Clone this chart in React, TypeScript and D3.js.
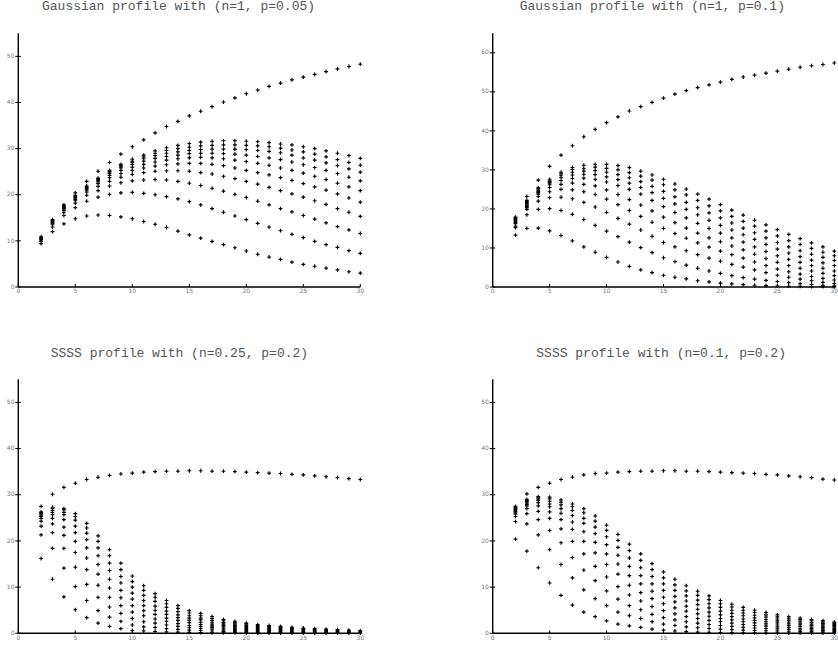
import React from "react";
import * as d3 from "d3";

// antenna count on the x axis, shared by all four panels
const nValues = [2, 3, 4, 5, 6, 7, 8, 9, 10, 11, 12, 13, 14, 15, 16, 17, 18, 19, 20, 21, 22, 23, 24, 25, 26, 27, 28, 29, 30];

// Gaussian profile (n=1, p=0.05)
const gaussLowTop = [10.9, 14.6, 17.8, 20.4, 22.9, 25.1, 27.0, 28.8, 30.4, 31.9, 33.4, 34.8, 35.9, 37.1, 38.1, 39.1, 40.1, 41.0, 41.9, 42.7, 43.5, 44.2, 44.9, 45.5, 46.1, 46.7, 47.3, 47.8, 48.3];
const gaussLowSeries = [
  [9.4, 12.0, 13.7, 14.8, 15.4, 15.6, 15.5, 15.2, 14.8, 14.2, 13.6, 12.9, 12.1, 11.3, 10.6, 9.9, 9.2, 8.5, 7.8, 7.1, 6.5, 6.0, 5.4, 4.9, 4.5, 4.1, 3.7, 3.3, 3.0],
  [9.9, 13.0, 15.5, 17.2, 18.6, 19.5, 20.1, 20.4, 20.5, 20.3, 20.0, 19.6, 19.1, 18.5, 17.8, 17.0, 16.2, 15.4, 14.6, 13.8, 13.0, 12.2, 11.4, 10.7, 9.9, 9.2, 8.6, 7.9, 7.3],
  [10.2, 13.5, 16.2, 18.2, 19.9, 20.9, 21.9, 22.6, 23.0, 23.2, 23.3, 23.2, 22.9, 22.5, 22.0, 21.4, 20.8, 20.1, 19.4, 18.6, 17.8, 17.0, 16.3, 15.5, 14.7, 13.9, 13.1, 12.4, 11.6],
  [10.4, 13.8, 16.6, 18.7, 20.6, 21.8, 22.9, 23.8, 24.4, 24.8, 25.1, 25.2, 25.2, 25.1, 24.8, 24.5, 24.0, 23.5, 22.9, 22.3, 21.6, 20.9, 20.2, 19.5, 18.7, 17.9, 17.0, 16.2, 15.3],
  [10.5, 14.0, 16.9, 19.0, 21.0, 22.4, 23.7, 24.6, 25.3, 25.8, 26.2, 26.5, 26.7, 26.8, 26.8, 26.6, 26.3, 25.8, 25.3, 24.8, 24.3, 23.7, 23.1, 22.4, 21.7, 21.0, 20.2, 19.3, 18.4],
  [10.6, 14.1, 17.1, 19.3, 21.3, 22.8, 24.2, 25.3, 26.0, 26.6, 27.1, 27.5, 27.8, 28.0, 28.1, 28.0, 27.8, 27.5, 27.2, 26.8, 26.4, 25.8, 25.3, 24.7, 24.0, 23.3, 22.5, 21.7, 20.9],
  [10.65, 14.2, 17.3, 19.5, 21.5, 23.1, 24.6, 25.8, 26.6, 27.3, 27.9, 28.3, 28.6, 28.9, 29.0, 29.0, 28.9, 28.8, 28.6, 28.3, 28.0, 27.6, 27.1, 26.5, 25.9, 25.3, 24.6, 23.8, 23.0],
  [10.7, 14.3, 17.4, 19.7, 21.7, 23.3, 24.9, 26.1, 27.0, 27.8, 28.5, 29.0, 29.3, 29.6, 29.8, 29.9, 29.9, 29.9, 29.8, 29.6, 29.4, 29.1, 28.6, 28.0, 27.5, 26.9, 26.3, 25.6, 24.9],
  [10.75, 14.4, 17.5, 19.8, 21.8, 23.5, 25.1, 26.4, 27.3, 28.2, 29.0, 29.6, 30.0, 30.3, 30.6, 30.7, 30.8, 30.8, 30.7, 30.6, 30.4, 30.1, 29.7, 29.3, 28.8, 28.2, 27.6, 27.0, 26.4],
  [10.8, 14.5, 17.6, 19.9, 21.9, 23.6, 25.3, 26.6, 27.7, 28.6, 29.5, 30.2, 30.7, 31.1, 31.4, 31.6, 31.7, 31.7, 31.6, 31.5, 31.3, 31.0, 30.8, 30.4, 30.0, 29.5, 29.0, 28.5, 27.9],
];

// Gaussian profile (n=1, p=0.1)
const gaussHighTop = [17.9, 23.2, 27.4, 30.9, 33.8, 36.2, 38.5, 40.4, 42.1, 43.6, 45.1, 46.2, 47.3, 48.4, 49.4, 50.3, 51.1, 51.8, 52.5, 53.2, 53.8, 54.3, 54.8, 55.3, 55.8, 56.3, 56.7, 57.0, 57.4];
const gaussHighSeries = [
  [13.3, 15.0, 15.1, 14.4, 13.2, 11.8, 10.3, 8.9, 7.6, 6.4, 5.3, 4.4, 3.7, 3.0, 2.5, 2.1, 1.6, 1.3, 1.0, 0.8, 0.6, 0.45, 0.35, 0.25, 0.2, 0.15, 0.1, 0.08, 0.05],
  [15.2, 18.5, 19.9, 20.1, 19.6, 18.6, 17.3, 15.8, 14.3, 12.9, 11.5, 10.1, 8.8, 7.5, 6.5, 5.6, 4.8, 4.1, 3.5, 2.9, 2.4, 2.0, 1.7, 1.4, 1.1, 0.85, 0.65, 0.45, 0.3],
  [15.6, 19.9, 22.0, 22.9, 23.0, 22.6, 21.7, 20.5, 19.1, 17.6, 16.1, 14.6, 13.0, 11.4, 10.3, 9.3, 8.3, 7.4, 6.6, 5.8, 5.1, 4.4, 3.7, 3.0, 2.5, 2.0, 1.6, 1.2, 0.9],
  [16.2, 20.3, 23.2, 24.4, 25.0, 24.9, 24.4, 23.7, 22.5, 21.1, 19.6, 18.1, 16.6, 15.0, 13.7, 12.5, 11.3, 10.2, 9.2, 8.3, 7.4, 6.4, 5.5, 4.6, 3.9, 3.3, 2.7, 2.2, 1.8],
  [16.5, 20.6, 23.8, 25.5, 26.3, 26.6, 26.3, 25.9, 24.9, 23.7, 22.4, 21.0, 19.5, 17.9, 16.5, 15.1, 13.8, 12.6, 11.6, 10.5, 9.5, 8.4, 7.3, 6.3, 5.5, 4.8, 4.1, 3.5, 2.9],
  [16.8, 20.9, 24.2, 26.2, 27.3, 27.8, 27.9, 27.6, 26.9, 26.0, 25.0, 23.8, 22.2, 20.6, 19.1, 17.7, 16.3, 15.0, 13.8, 12.6, 11.5, 10.3, 9.1, 8.0, 7.1, 6.3, 5.5, 4.8, 4.1],
  [17.0, 21.3, 24.5, 26.6, 28.0, 28.7, 28.9, 28.8, 28.2, 27.5, 26.6, 25.5, 24.2, 22.7, 21.3, 19.9, 18.5, 17.1, 15.8, 14.6, 13.4, 12.2, 10.9, 9.7, 8.7, 7.8, 6.9, 6.2, 5.5],
  [17.2, 21.6, 24.8, 26.9, 28.5, 29.4, 29.7, 29.8, 29.4, 28.8, 28.0, 27.0, 25.8, 24.5, 23.1, 21.7, 20.3, 19.0, 17.7, 16.4, 15.1, 13.9, 12.6, 11.4, 10.3, 9.3, 8.4, 7.6, 6.8],
  [17.4, 21.9, 25.1, 27.2, 29.0, 30.1, 30.3, 30.7, 30.4, 30.0, 29.3, 28.4, 27.4, 26.2, 24.9, 23.6, 22.2, 20.8, 19.5, 18.1, 16.8, 15.6, 14.3, 13.1, 11.9, 10.9, 9.9, 8.9, 8.0],
  [17.6, 22.2, 25.4, 27.6, 29.4, 30.6, 31.2, 31.4, 31.4, 31.1, 30.6, 29.7, 28.7, 27.6, 26.4, 25.1, 23.8, 22.5, 21.1, 19.7, 18.4, 17.1, 15.9, 14.7, 13.5, 12.4, 11.3, 10.3, 9.2],
];

// SSSS profile (n=0.25, p=0.2)
const ssssWideTop = [27.5, 30.1, 31.6, 32.5, 33.3, 33.8, 34.2, 34.5, 34.7, 34.9, 35.0, 35.1, 35.1, 35.2, 35.2, 35.1, 35.1, 35.0, 34.9, 34.8, 34.7, 34.6, 34.4, 34.3, 34.1, 33.9, 33.7, 33.5, 33.3];
const ssssWideSeries = [
  [16.2, 11.7, 7.9, 5.1, 3.4, 2.2, 1.5, 1.0, 0.6, 0.5, 0.4, 0.3, 0.25, 0.2, 0.15, 0.12, 0.1, 0.08, 0.07, 0.06, 0.05, 0.05, 0.04, 0.04, 0.03, 0.03, 0.03, 0.02, 0.02],
  [21.3, 18.4, 14.1, 10.1, 7.1, 4.9, 3.5, 2.6, 1.8, 1.4, 1.3, 1.0, 0.85, 0.7, 0.6, 0.5, 0.42, 0.35, 0.3, 0.27, 0.24, 0.21, 0.18, 0.16, 0.14, 0.13, 0.11, 0.1, 0.09],
  [23.2, 21.8, 18.4, 14.3, 10.6, 7.8, 5.7, 4.3, 3.2, 2.5, 2.2, 1.8, 1.5, 1.2, 1.05, 0.9, 0.75, 0.65, 0.55, 0.48, 0.43, 0.37, 0.32, 0.28, 0.25, 0.22, 0.2, 0.18, 0.16],
  [24.3, 23.7, 21.2, 17.5, 13.8, 10.4, 7.8, 6.0, 4.6, 3.8, 3.1, 2.6, 2.1, 1.7, 1.5, 1.3, 1.1, 0.9, 0.8, 0.7, 0.62, 0.54, 0.47, 0.41, 0.36, 0.32, 0.29, 0.26, 0.22],
  [24.9, 24.9, 23.0, 19.9, 16.3, 12.8, 9.8, 7.7, 6.0, 4.9, 4.1, 3.3, 2.8, 2.3, 1.9, 1.6, 1.4, 1.15, 1.0, 0.9, 0.8, 0.7, 0.61, 0.54, 0.47, 0.42, 0.37, 0.33, 0.29],
  [25.3, 25.7, 24.6, 21.8, 18.5, 14.9, 11.7, 9.3, 7.4, 6.0, 5.0, 4.1, 3.4, 2.8, 2.4, 2.0, 1.7, 1.45, 1.25, 1.1, 0.98, 0.86, 0.75, 0.66, 0.58, 0.52, 0.46, 0.41, 0.36],
  [25.6, 26.2, 25.7, 23.2, 20.3, 16.8, 13.6, 10.9, 8.7, 7.1, 5.9, 4.8, 4.0, 3.3, 2.9, 2.4, 2.0, 1.7, 1.5, 1.3, 1.16, 1.02, 0.89, 0.78, 0.69, 0.61, 0.55, 0.49, 0.42],
  [25.9, 26.6, 26.2, 24.5, 21.7, 18.5, 15.2, 12.3, 10.0, 8.2, 6.9, 5.6, 4.7, 3.8, 3.3, 2.8, 2.3, 2.0, 1.7, 1.5, 1.34, 1.18, 1.03, 0.9, 0.79, 0.71, 0.63, 0.56, 0.48],
  [26.1, 27.0, 26.7, 25.3, 22.8, 19.9, 16.8, 13.8, 11.2, 9.3, 7.8, 6.4, 5.4, 4.4, 3.8, 3.2, 2.7, 2.3, 1.95, 1.7, 1.52, 1.34, 1.17, 1.02, 0.9, 0.8, 0.72, 0.63, 0.54],
  [26.3, 27.3, 27.0, 25.9, 23.8, 21.1, 18.1, 15.2, 12.4, 10.3, 8.6, 7.1, 6.0, 4.9, 4.3, 3.6, 3.0, 2.6, 2.2, 1.9, 1.7, 1.5, 1.3, 1.15, 1.0, 0.9, 0.8, 0.7, 0.6],
];

// SSSS profile (n=0.1, p=0.2)
const ssssNarrowTop = [27.5, 30.2, 31.6, 32.5, 33.3, 33.8, 34.3, 34.6, 34.7, 34.9, 35.0, 35.1, 35.1, 35.2, 35.2, 35.1, 35.1, 35.0, 34.9, 34.8, 34.7, 34.6, 34.4, 34.3, 34.1, 33.9, 33.7, 33.4, 33.2];
const ssssNarrowSeries = [
  [20.4, 17.8, 14.2, 10.9, 8.2, 6.1, 4.6, 3.6, 2.7, 2.0, 1.6, 1.3, 0.9, 0.7, 0.5, 0.35, 0.25, 0.2, 0.15, 0.12, 0.1, 0.08, 0.07, 0.06, 0.05, 0.05, 0.04, 0.04, 0.03],
  [24.2, 23.7, 21.3, 18.1, 14.9, 12.0, 9.4, 7.5, 6.0, 4.6, 3.8, 3.2, 2.5, 2.0, 1.7, 1.4, 1.2, 1.05, 0.9, 0.8, 0.7, 0.6, 0.55, 0.5, 0.45, 0.4, 0.37, 0.33, 0.3],
  [25.3, 25.9, 24.6, 22.3, 19.6, 16.4, 13.7, 11.4, 9.2, 7.4, 6.0, 5.1, 4.1, 3.4, 2.9, 2.5, 2.2, 1.9, 1.7, 1.5, 1.3, 1.15, 1.05, 0.95, 0.85, 0.75, 0.7, 0.63, 0.57],
  [25.8, 27.0, 26.4, 24.9, 22.6, 19.9, 17.2, 14.5, 12.2, 10.1, 8.3, 7.0, 5.8, 4.9, 4.2, 3.6, 3.2, 2.8, 2.5, 2.2, 1.9, 1.7, 1.55, 1.4, 1.25, 1.1, 1.0, 0.93, 0.84],
  [26.1, 27.6, 27.6, 26.3, 24.6, 22.5, 19.9, 17.4, 14.9, 12.8, 10.4, 8.8, 7.5, 6.4, 5.5, 4.8, 4.2, 3.7, 3.2, 2.9, 2.5, 2.25, 2.05, 1.8, 1.65, 1.5, 1.35, 1.23, 1.1],
  [26.4, 27.9, 28.3, 27.4, 26.0, 24.1, 22.0, 19.7, 17.2, 15.0, 12.5, 10.7, 9.1, 7.8, 6.8, 5.9, 5.2, 4.6, 4.0, 3.6, 3.1, 2.8, 2.5, 2.25, 2.05, 1.85, 1.7, 1.53, 1.38],
  [26.6, 28.2, 28.8, 28.0, 27.0, 25.5, 23.8, 21.6, 19.2, 16.9, 14.5, 12.5, 10.7, 9.3, 8.0, 7.0, 6.2, 5.5, 4.8, 4.3, 3.8, 3.35, 3.0, 2.7, 2.45, 2.2, 2.0, 1.83, 1.65],
  [26.8, 28.5, 29.1, 28.6, 27.8, 26.6, 24.9, 23.0, 20.9, 18.6, 16.3, 14.2, 12.3, 10.7, 9.3, 8.1, 7.2, 6.4, 5.6, 5.0, 4.4, 3.9, 3.5, 3.1, 2.85, 2.6, 2.35, 2.13, 1.93],
  [27.0, 28.8, 29.4, 29.1, 28.4, 27.4, 26.1, 24.3, 22.3, 20.1, 17.9, 15.8, 13.8, 12.0, 10.5, 9.2, 8.2, 7.3, 6.4, 5.7, 5.0, 4.5, 4.0, 3.55, 3.25, 2.95, 2.7, 2.43, 2.2],
  [27.2, 29.0, 29.6, 29.5, 28.9, 28.0, 27.0, 25.4, 23.4, 21.4, 19.3, 17.2, 15.1, 13.3, 11.7, 10.3, 9.1, 8.1, 7.1, 6.3, 5.6, 5.0, 4.5, 4.0, 3.6, 3.3, 3.0, 2.75, 2.45],
];

const panelTitles = [
  "Gaussian profile with (n=1, p=0.05)",
  "Gaussian profile with (n=1, p=0.1)",
  "SSSS profile with (n=0.25, p=0.2)",
  "SSSS profile with (n=0.1, p=0.2)",
];
const yMaxes = [55, 65, 55, 55];

const WIDTH = 838;
const HEIGHT = 647;

// plot boxes: left/right of the x range, bottom/top of the y range, title start
const layout = [
  { x0: 18.3, x1: 360.3, y0: 287, y1: 33.3, titleX: 42, titleY: 10 },
  { x0: 492.7, x1: 834.3, y0: 287, y1: 33.3, titleX: 519.7, titleY: 10 },
  { x0: 18.3, x1: 360.3, y0: 633.3, y1: 379.3, titleX: 50.7, titleY: 356.5 },
  { x0: 492.7, x1: 834.3, y0: 633.3, y1: 379.3, titleX: 536.3, titleY: 356.5 },
];

const panelData = [
  { top: gaussLowTop, lower: gaussLowSeries },
  { top: gaussHighTop, lower: gaussHighSeries },
  { top: ssssWideTop, lower: ssssWideSeries },
  { top: ssssNarrowTop, lower: ssssNarrowSeries },
];

const plus = (cx: number, cy: number) =>
  `M${(cx - 1.9).toFixed(2)},${cy.toFixed(2)}h3.8M${cx.toFixed(2)},${(cy - 1.9).toFixed(2)}v3.8`;

const Panel = ({ idx }: { idx: number }) => {
  const box = layout[idx];
  const { top, lower } = panelData[idx];
  const x = d3.scaleLinear().domain([0, 30]).range([box.x0, box.x1]);
  const y = d3.scaleLinear().domain([0, yMaxes[idx]]).range([box.y0, box.y1]);

  // all points of the panel, the upper curve last
  let d = "";
  [...lower, top].forEach((series) => {
    series.forEach((v, i) => {
      d += plus(x(nValues[i]), y(v));
    });
  });

  const xTicks = x.ticks(6);
  const yTicks = y.ticks(6);

  return (
    <g>
      <text
        x={box.titleX}
        y={box.titleY}
        fontFamily="'Liberation Mono', 'DejaVu Sans Mono', monospace"
        fontSize={13}
        fill="#555"
      >
        {panelTitles[idx]}
      </text>
      <path d={d} stroke="#000" strokeWidth={1.15} fill="none" />
      <line x1={box.x0} x2={box.x0} y1={box.y0} y2={box.y1} stroke="#000" strokeWidth={1.4} />
      <line x1={box.x0} x2={box.x1} y1={box.y0} y2={box.y0} stroke="#000" strokeWidth={1.4} />
      {yTicks.map((t) => (
        <g key={"y" + t}>
          <line x1={box.x0 - 3} x2={box.x0 + 2.5} y1={y(t)} y2={y(t)} stroke="#000" strokeWidth={1} />
          <text
            x={box.x0 - 3.8}
            y={y(t)}
            textAnchor="end"
            dominantBaseline="middle"
            fontFamily="'DejaVu Sans', sans-serif"
            fontSize={6}
            fill="#777"
          >
            {t}
          </text>
        </g>
      ))}
      {xTicks.map((t) => (
        <g key={"x" + t}>
          <line x1={x(t)} x2={x(t)} y1={box.y0} y2={box.y0 - 3} stroke="#000" strokeWidth={1} />
          <text
            x={x(t)}
            y={box.y0 + 4.8}
            textAnchor="middle"
            dominantBaseline="middle"
            fontFamily="'DejaVu Sans', sans-serif"
            fontSize={6}
            fill="#777"
          >
            {t}
          </text>
        </g>
      ))}
    </g>
  );
};

const App = () => (
  <svg
    width={WIDTH}
    height={HEIGHT}
    style={{ position: "absolute", left: 0, top: 0, background: "#fff" }}
  >
    <rect width={WIDTH} height={HEIGHT} fill="#fff" />
    {[0, 1, 2, 3].map((i) => (
      <Panel key={i} idx={i} />
    ))}
  </svg>
);

export default App;
